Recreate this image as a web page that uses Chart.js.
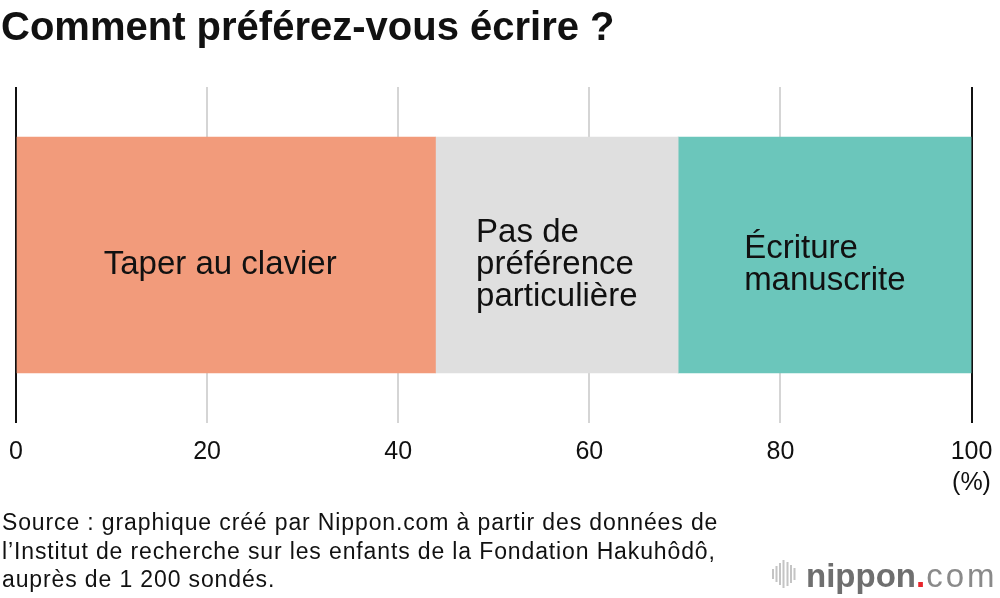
<!DOCTYPE html>
<html>
<head>
<meta charset="utf-8">
<script src="https://cdn.jsdelivr.net/npm/chart.js@4.4.1/dist/chart.umd.min.js"></script>
<style>
  html, body { margin: 0; padding: 0; background: #fff; }
  #wrap { position: relative; width: 1000px; height: 598px; }
</style>
</head>
<body>
<div id="wrap"><canvas id="chart" width="1000" height="598"></canvas></div>
<script>
// data
const categories = ["Comment préférez-vous écrire ?"];
const seriesNames = [
  ["Taper au clavier"],
  ["Pas de", "préférence", "particulière"],
  ["Écriture", "manuscrite"]
];
const seriesValues = [43.9, 25.4, 30.7];
const seriesColors = ["#f29b7b", "#dfdfdf", "#6bc6bb"];
const tickValues = [0, 20, 40, 60, 80, 100];

const titleText = "Comment préférez-vous écrire ?";
const sourceLines = [
  "Source : graphique créé par Nippon.com à partir des données de",
  "l’Institut de recherche sur les enfants de la Fondation Hakuhôdô,",
  "auprès de 1 200 sondés."
];

const FONT = "'Liberation Sans', Arial, Helvetica, sans-serif";

// letter spacing so that the text spans the given width
function spacingFor(ctx, text, width) {
  ctx.letterSpacing = "0px";
  const w = ctx.measureText(text).width;
  return (width - w) / text.length;
}

// labels inside each segment, block centered, lines left aligned
const segmentLabels = {
  id: "segmentLabels",
  afterDatasetsDraw(chart) {
    const ctx = chart.ctx;
    ctx.save();
    ctx.font = "33px " + FONT;
    ctx.fillStyle = "#111";
    ctx.textBaseline = "middle";
    ctx.textAlign = "left";
    const lh = 32;
    chart.data.datasets.forEach((ds, i) => {
      const el = chart.getDatasetMeta(i).data[0];
      const lines = seriesNames[i];
      const cx = (el.x + el.base) / 2 - (lines.length === 1 ? 6 : 0);
      const cy = el.y + 10;
      let w = 0;
      lines.forEach(l => { w = Math.max(w, ctx.measureText(l).width); });
      const y0 = cy - (lines.length - 1) * lh / 2;
      lines.forEach((l, k) => {
        ctx.fillText(l, cx - w / 2, y0 + k * lh);
      });
    });
    ctx.restore();
  }
};

// title, source and logo
const decorations = {
  id: "decorations",
  afterDraw(chart) {
    const ctx = chart.ctx;
    ctx.save();
    ctx.fillStyle = "#111";
    ctx.textBaseline = "alphabetic";
    ctx.textAlign = "left";
    ctx.font = "bold 40px " + FONT;
    ctx.fillText(titleText, 1, 40);

    ctx.font = "23px " + FONT;
    const ls = spacingFor(ctx, sourceLines[0], 716);
    ctx.letterSpacing = ls.toFixed(2) + "px";
    sourceLines.forEach((l, k) => {
      ctx.fillText(l, 2, 530 + k * 28.5);
    });
    ctx.letterSpacing = "0px";

    // logo
    const bars = [[772, 10], [775.5, 16], [779, 22], [782.5, 28], [786.5, 24], [790, 18], [793.5, 12]];
    ctx.fillStyle = "#c4c4c4";
    bars.forEach(b => {
      ctx.fillRect(b[0], 574 - b[1] / 2, 2, b[1]);
    });
    ctx.fillStyle = "#6f6f6f";
    ctx.font = "bold 33px " + FONT;
    ctx.fillText("nippon", 806, 587);
    let x = 806 + ctx.measureText("nippon").width;
    ctx.fillStyle = "#e8262c";
    ctx.fillText(".", x, 587);
    x += ctx.measureText(".").width;
    ctx.fillStyle = "#8a8a8a";
    ctx.font = "33px " + FONT;
    ctx.letterSpacing = "3px";
    ctx.fillText("com", x + 1, 587);
    ctx.restore();
  }
};

const datasets = seriesValues.map((v, i) => ({
  label: seriesNames[i].join(" "),
  data: [v],
  backgroundColor: seriesColors[i],
  borderWidth: 0,
  barThickness: 236
}));

new Chart(document.getElementById("chart"), {
  type: "bar",
  plugins: [segmentLabels, decorations],
  data: { labels: categories, datasets: datasets },
  options: {
    indexAxis: "y",
    responsive: false,
    animation: false,
    layout: { padding: { top: 87, left: 16, right: 28.5, bottom: 0 } },
    plugins: {
      legend: { display: false },
      tooltip: { enabled: false }
    },
    scales: {
      x: {
        stacked: true,
        min: 0,
        max: 100,
        afterBuildTicks(scale) {
          scale.ticks = tickValues.map(v => ({ value: v }));
        },
        afterFit(scale) {
          scale.height = 175;
          scale.paddingLeft = 0;
          scale.paddingRight = 0;
        },
        grid: {
          drawTicks: false,
          lineWidth: 2,
          color: ctx => (ctx.tick && (ctx.tick.value === 0 || ctx.tick.value === 100)) ? "#111" : "#d5d5d5"
        },
        border: { display: false },
        ticks: {
          padding: 13,
          color: "#111",
          font: { family: FONT, size: 25, lineHeight: 1.25 },
          maxRotation: 0,
          callback: v => v === 100 ? ["100", "(%)"] : String(v)
        }
      },
      y: {
        stacked: true,
        display: false
      }
    }
  }
});
</script>
</body>
</html>
